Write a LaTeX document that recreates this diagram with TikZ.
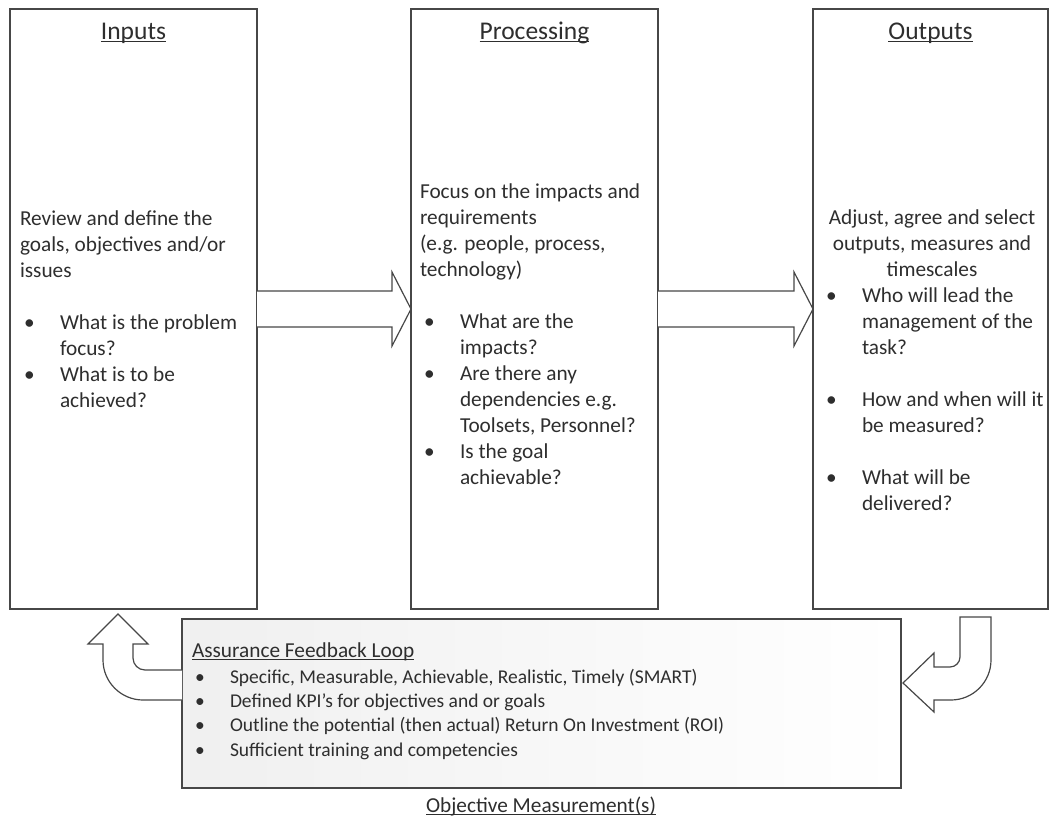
\documentclass[tikz,border=0pt]{standalone}
\usepackage{fontspec}
\setmainfont{Carlito}
\usetikzlibrary{calc}

\def\Under#1{\setbox0=\hbox{#1}\rlap{\rule[-3pt]{\wd0}{1.1pt}}\box0}

\tikzset{
  box/.style={draw=black!72, line width=1.4pt, inner sep=0pt, outer sep=0pt},
  txt/.style={inner sep=0pt, outer sep=0pt, anchor=base west, text=black!82,
    font=\fontsize{21.3}{26}\selectfont},
  ctr/.style={txt, anchor=base},
  head/.style={ctr, font=\fontsize{25.5}{30}\selectfont},
  small/.style={txt, font=\fontsize{19.5}{24}\selectfont},
  arrowline/.style={draw=black!72, line width=1.2pt, fill=white, line join=miter},
}

\begin{document}
\begin{tikzpicture}[x=1pt, y=-1pt]
  \useasboundingbox (0,0) rectangle (1050,819);

  % stages
  \node[box, minimum width=247, minimum height=600] (inputs) at (133.5,309) {};
  \node[box, minimum width=247, minimum height=600] (processing) at (534.5,309) {};
  \node[box, minimum width=235, minimum height=600] (outputs) at (930.5,309) {};
  \node[box, minimum width=719, minimum height=169, left color=black!6, right color=white]
    (feedback) at (541.5,703.5) {};

  % titles
  \node[head] (inputs-t) at (inputs.north |- 0,39) {\Under{Inputs}};
  \node[head] (processing-t) at (processing.north |- 0,39) {\Under{Processing}};
  \node[head] (outputs-t) at (outputs.north |- 0,39) {\Under{Outputs}};
  \node[ctr] (measure-t) at (541,812) {\Under{Objective Measurement(s)}};

  % Inputs
  \foreach \y/\t [count=\i] in {
    225/Review and define the,
    251/{goals, objectives and/or},
    277/issues%
  } {
    \node[txt] (in-l\i) at (20,\y) {\t};
  }
  \foreach \y [count=\i] in {329,381}
    \node[txt] (in-d\i) at (24,\y) {\textbullet};
  \foreach \y/\t [count=\i] in {
    329/What is the problem,
    355/focus?,
    381/What is to be,
    407/achieved?%
  } {
    \node[txt] (in-b\i) at (60,\y) {\t};
  }

  % Processing
  \foreach \y/\t [count=\i] in {
    198/Focus on the impacts and,
    224/requirements,
    250/{(e.g. people, process,},
    276/technology)%
  } {
    \node[txt] (pr-l\i) at (420,\y) {\t};
  }
  \foreach \y [count=\i] in {328,380,458}
    \node[txt] (pr-d\i) at (424,\y) {\textbullet};
  \foreach \y/\t [count=\i] in {
    328/What are the,
    354/impacts?,
    380/Are there any,
    406/dependencies e.g.,
    432/{Toolsets, Personnel?},
    458/Is the goal,
    484/achievable?%
  } {
    \node[txt] (pr-b\i) at (460,\y) {\t};
  }

  % Outputs
  \foreach \y/\t [count=\i] in {
    224/{Adjust, agree and select},
    250/{outputs, measures and},
    276/timescales%
  } {
    \node[ctr] (out-l\i) at (932,\y) {\t};
  }
  \foreach \y [count=\i] in {302,406,484}
    \node[txt] (out-d\i) at (826,\y) {\textbullet};
  \foreach \y/\t [count=\i] in {
    302/Who will lead the,
    328/management of the,
    354/task?,
    406/How and when will it,
    432/be measured?,
    484/What will be,
    510/delivered?%
  } {
    \node[txt] (out-b\i) at (862,\y) {\t};
  }

  % feedback loop
  \node[txt] (fb-t) at (192,657) {\Under{Assurance Feedback Loop}};
  \foreach \y/\t [count=\i] in {
    683/{Specific, Measurable, Achievable, Realistic, Timely (SMART)},
    707/Defined KPI’s for objectives and or goals,
    731/Outline the potential (then actual) Return On Investment (ROI),
    756/Sufficient training and competencies%
  } {
    \node[small] (fb-d\i) at (195,\y) {\textbullet};
    \node[small] (fb-b\i) at (230,\y) {\t};
  }

  % block arrows between stages
  \def\BlockArrow#1#2{
    \draw[arrowline]
      ($(#1.east)+(0,-18)$) -- ($(#2.west)+(-19,-18)$)
      -- ($(#2.west)+(-19,-37)$) -- (#2.west)
      -- ($(#2.west)+(-19,37)$) -- ($(#2.west)+(-19,18)$)
      -- ($(#1.east)+(0,18)$)
    ;%
  }
  \BlockArrow{inputs}{processing}
  \BlockArrow{processing}{outputs}

  % turning arrows round the feedback box
  \begin{scope}[shift={(feedback.north west)}]
    \draw[arrowline]
      (0,51) -- (-37,51) .. controls (-43.6,51) and (-49,45.6) .. (-49,39)
      -- (-49,25) -- (-34,25) -- (-64,-5) -- (-94,25) -- (-79,25)
      -- (-79,41) .. controls (-79,63) and (-61,81) .. (-39,81) -- (0,81)
    ;
  \end{scope}
  \begin{scope}[shift={(feedback.north east)}]
    \draw[arrowline]
      (59,-2) -- (59,38) .. controls (59,43.5) and (54.5,48) .. (49,48)
      -- (33,48) -- (33,34) -- (2,64) -- (33,93) -- (33,81) -- (50,81)
      .. controls (72,81) and (90,63) .. (90,41) -- (90,-2) -- cycle
    ;
  \end{scope}
\end{tikzpicture}
\end{document}
